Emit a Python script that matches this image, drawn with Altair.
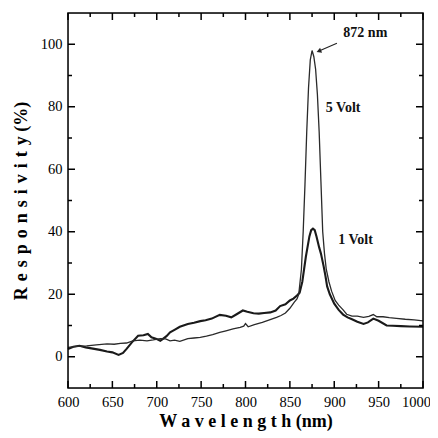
import altair as alt
import pandas as pd

# 1 Volt (thick line)
wl_1v = [600, 606, 613, 620, 628, 636, 644, 650, 657, 662, 666, 672, 679, 685, 690, 694, 699, 704, 707,
         711, 715, 720, 726, 735, 742, 749, 755, 762, 771, 778, 784, 790, 797, 802, 809, 815, 821, 828,
         834, 839, 845, 850, 854, 858, 861, 864, 868, 872, 874, 876, 878, 880, 883, 885, 888, 890, 892,
         895, 900, 905, 910, 915, 920, 926, 933, 938, 944, 950, 959, 966, 975, 985, 1000]
r_1v = [2.5, 3.2, 3.5, 3.0, 2.6, 2.2, 1.7, 1.4, 0.6, 1.2, 2.5, 4.6, 6.7, 6.9, 7.3, 6.2, 5.8, 5.1, 5.7,
        6.6, 7.8, 8.6, 9.6, 10.5, 10.9, 11.4, 11.7, 12.2, 13.4, 13.1, 12.6, 13.6, 14.8, 14.4, 13.9, 13.8, 14.0, 14.2,
        14.8, 16.2, 16.8, 18.0, 18.6, 19.6, 20.5, 24.0, 32.0, 38.5, 40.5, 41.0, 40.5, 38.5, 35.0, 33.0, 29.0, 26.0, 22.5,
        20.0, 17.0, 15.0, 13.5, 12.6, 12.0, 11.2, 10.5, 11.0, 12.2, 11.5, 10.0, 9.9, 9.8, 9.7, 9.6]

# 5 Volt (thin line)
wl_5v = [600, 610, 621, 632, 644, 652, 659, 666, 673, 681, 689, 696, 704, 710, 715, 720, 726, 735, 742,
         749, 756, 763, 771, 778, 786, 794, 798, 800, 803, 810, 819, 827, 835, 840, 845, 850, 855, 858,
         860, 863, 865, 867, 869, 871, 873, 875, 877, 879, 881, 883, 885, 887, 889, 891, 894, 897, 901,
         905, 910, 914, 920, 926, 933, 939, 944, 948, 955, 962, 970, 980, 990, 1000]
r_5v = [3.0, 3.3, 3.5, 3.8, 4.1, 4.0, 4.3, 4.4, 5.1, 5.3, 5.1, 5.4, 5.8, 5.7, 5.1, 5.3, 4.9, 5.8, 6.0,
        6.2, 6.6, 7.1, 7.8, 8.3, 8.9, 9.4, 9.8, 10.6, 9.6, 10.3, 11.0, 11.8, 12.6, 13.2, 14.0, 15.5, 17.5, 18.5,
        20.0, 28.0, 40.0, 55.0, 72.0, 86.0, 95.0, 98.0, 96.0, 92.0, 84.0, 72.0, 56.0, 40.0, 33.0, 28.0, 24.0, 21.0, 18.0,
        16.5, 15.0, 13.6, 13.0, 13.0, 12.6, 12.9, 13.5, 12.8, 12.8, 12.5, 12.3, 12.0, 11.8, 11.5]

# annotations
label_text = ["872 nm", "5 Volt", "1 Volt"]
label_wl = [935, 910, 924]
label_r = [103.5, 79.5, 37.4]
arrow_wl = [903, 883.5]
arrow_r = [100.3, 97.9]

x_major = [600, 650, 700, 750, 800, 850, 900, 950, 1000]
x_minor = [625, 675, 725, 775, 825, 875, 925, 975]
y_major = [0, 20, 40, 60, 80, 100]
y_minor = [10, 30, 50, 70, 90]

W, H = 355, 375

d1 = pd.DataFrame({"wl": wl_1v, "r": r_1v})
d5 = pd.DataFrame({"wl": wl_5v, "r": r_5v})
dl = pd.DataFrame({"wl": label_wl, "r": label_r, "t": label_text})
da = pd.DataFrame({"wl": arrow_wl, "r": arrow_r})
dh = da.iloc[[1]]
dxM = pd.DataFrame({"wl": x_major})
dxm = pd.DataFrame({"wl": x_minor})
dyM = pd.DataFrame({"r": y_major})
dym = pd.DataFrame({"r": y_minor})
dframe = pd.DataFrame({"k": [0]})

xs = alt.Scale(domain=[600, 1000], nice=False, zero=False)
ys = alt.Scale(domain=[-10, 110], nice=False, zero=False)

FONT = "Liberation Serif"
SP = " \u200a"

x_axis = alt.Axis(values=x_major, format="d", ticks=False, domain=False, grid=False,
                  labelOverlap=False, labelFlush=False, labelPadding=7,
                  labelOffset={"condition": {"test": "datum.value == 1000", "value": -7}, "value": 0},
                  labelFont=FONT, labelFontSize=14.5, labelColor="black",
                  title="W a v e l e n g t h  (nm)", titlePadding=4,
                  titleFont=FONT, titleFontSize=18, titleFontWeight="bold", titleColor="black")
y_axis = alt.Axis(values=y_major, format="d", ticks=False, domain=False, grid=False,
                  labelOverlap=False, labelFlush=False, labelPadding=6,
                  labelFont=FONT, labelFontSize=14.5, labelColor="black",
                  title=SP.join("Responsivity") + "  (%)", titlePadding=10,
                  titleFont=FONT, titleFontSize=18, titleFontWeight="bold", titleColor="black")

X = alt.X("wl:Q", scale=xs, axis=x_axis)
Y = alt.Y("r:Q", scale=ys, axis=y_axis)

line1 = alt.Chart(d1).mark_line(color="#1a1a1a", strokeWidth=2.1).encode(x=X, y=Y)
line5 = alt.Chart(d5).mark_line(color="#2a2a2a", strokeWidth=1.3).encode(x=X, y=Y)

frame = alt.Chart(dframe).mark_rect(fillOpacity=0, stroke="black", strokeWidth=1.5).encode(
    x=alt.value(0), x2=alt.value(W), y=alt.value(0), y2=alt.value(H))

MAJ, MIN = 7, 4
tick_style = dict(color="black", strokeWidth=1.5, opacity=1)
bx_major = alt.Chart(dxM).mark_rule(**tick_style).encode(x=X, y=alt.value(H - MAJ), y2=alt.value(H))
tx_major = alt.Chart(dxM).mark_rule(**tick_style).encode(x=X, y=alt.value(0), y2=alt.value(MAJ))
bx_minor = alt.Chart(dxm).mark_rule(**tick_style).encode(x=X, y=alt.value(H - MIN), y2=alt.value(H))
tx_minor = alt.Chart(dxm).mark_rule(**tick_style).encode(x=X, y=alt.value(0), y2=alt.value(MIN))
ly_major = alt.Chart(dyM).mark_rule(**tick_style).encode(y=Y, x=alt.value(0), x2=alt.value(MAJ))
ry_major = alt.Chart(dyM).mark_rule(**tick_style).encode(y=Y, x=alt.value(W - MAJ), x2=alt.value(W))
ly_minor = alt.Chart(dym).mark_rule(**tick_style).encode(y=Y, x=alt.value(0), x2=alt.value(MIN))
ry_minor = alt.Chart(dym).mark_rule(**tick_style).encode(y=Y, x=alt.value(W - MIN), x2=alt.value(W))

labels = alt.Chart(dl).mark_text(font=FONT, fontSize=14, fontWeight="bold", color="#111").encode(
    x=X, y=Y, text="t:N")
arrow = alt.Chart(da).mark_line(color="#222", strokeWidth=1.2).encode(x=X, y=Y)
head = alt.Chart(dh).mark_point(shape="triangle", filled=True, color="#222", size=30, angle=249, opacity=1).encode(
    x=X, y=Y)

chart = alt.layer(
    line1, line5, labels, arrow, head, frame,
    bx_major, tx_major, bx_minor, tx_minor, ly_major, ry_major, ly_minor, ry_minor
).properties(
    width=W, height=H,
    autosize=alt.AutoSizeParams(type="none"),
    padding={"left": 60, "top": 5, "right": 7, "bottom": 48},
).configure_view(strokeWidth=0, stroke="transparent").configure(background="white")

chart.save("out.html", embed_options={"renderer": "svg", "actions": False})
